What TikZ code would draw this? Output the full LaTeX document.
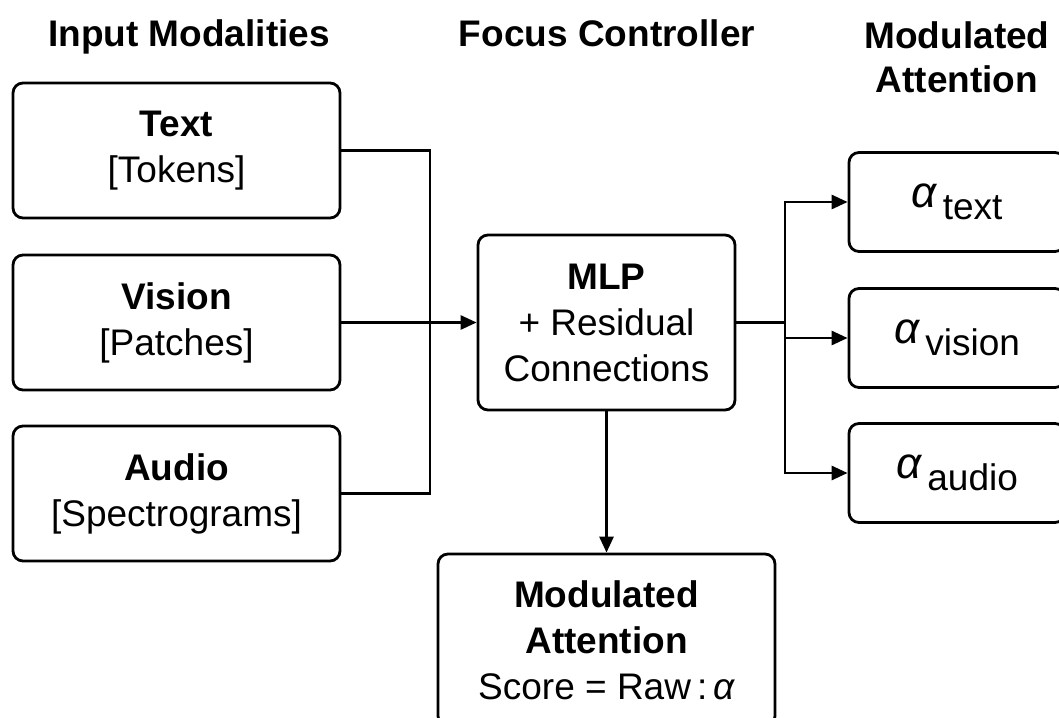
\documentclass[tikz,border=0pt]{standalone}
\usepackage{fontspec}
\setmainfont{Liberation Sans}
\usetikzlibrary{arrows.meta}

\tikzset{
    box/.style={draw, line width=1.4pt, rounded corners=5pt, align=center, inner sep=0pt},
    link/.style={line width=1.4pt},
    arr/.style={link, -{Triangle[length=8pt,width=7pt]}},
    heading/.style={font=\fontsize{18.5}{22}\selectfont\bfseries, align=center, inner sep=0pt}
}
\newcommand{\weight}[1]{{\fontsize{22}{23}\selectfont\itshape α}\,\raisebox{-6pt}{#1}}

\begin{document}
\begin{tikzpicture}[x=0.5pt, y=-0.5pt, every node/.style={font=\fontsize{18.5}{23}\selectfont}]
    \useasboundingbox (0,0) rectangle (1059,717);
    \fill[white] (0,0) rectangle (1059,717);

    %column titles
    \node[heading, anchor=base] (ttl-in) at (189,47) {Input Modalities};
    \node[heading, anchor=base] (ttl-fc) at (607,47) {Focus Controller};
    \node[heading, anchor=north] (ttl-out) at (957,21) {Modulated\\Attention};

    %inputs
    \node[box, minimum width=163.5pt, minimum height=67.5pt] (text) at (176.5,150.5) {\textbf{Text}\\{[Tokens]}};
    \node[box, minimum width=163.5pt, minimum height=67.5pt] (vision) at (176.5,322.5) {\textbf{Vision}\\{[Patches]}};
    \node[box, minimum width=163.5pt, minimum height=67.5pt] (audio) at (176.5,493.5) {\textbf{Audio}\\{[Spectrograms]}};

    %controller
    \node[box, minimum width=128.5pt, minimum height=87.5pt] (mlp) at (606.5,322.5) {\textbf{MLP}\\+ Residual\\Connections};
    \node[box, minimum width=168.5pt, minimum height=86pt] (score) at (606.5,640) {\textbf{Modulated}\\\textbf{Attention}\\Score = Raw\,:\,{\itshape α}};

    %outputs
    \node[box, minimum width=108pt, minimum height=49.5pt] (atext) at (957,202) {\weight{text}};
    \node[box, minimum width=108pt, minimum height=49.5pt] (avision) at (957,338) {\weight{vision}};
    \node[box, minimum width=108pt, minimum height=49.5pt] (aaudio) at (957,473) {\weight{audio}};

    %merge
    \coordinate (join) at (vision.east -| 430,0);
    \draw[link] (text.east) -| (join);
    \draw[link] (audio.east) -| (join);
    \draw[arr] (vision.east) -- (mlp.west);

    %split
    \coordinate (split) at (mlp.east -| 785,0);
    \draw[link] (mlp.east) -- (split);
    \draw[arr] (split) |- (atext.west);
    \draw[arr] (split) |- (aaudio.west);
    \draw[arr] (split |- avision.west) -- (avision.west);
    \draw[arr] (mlp.south) -- (score.north);
\end{tikzpicture}
\end{document}
